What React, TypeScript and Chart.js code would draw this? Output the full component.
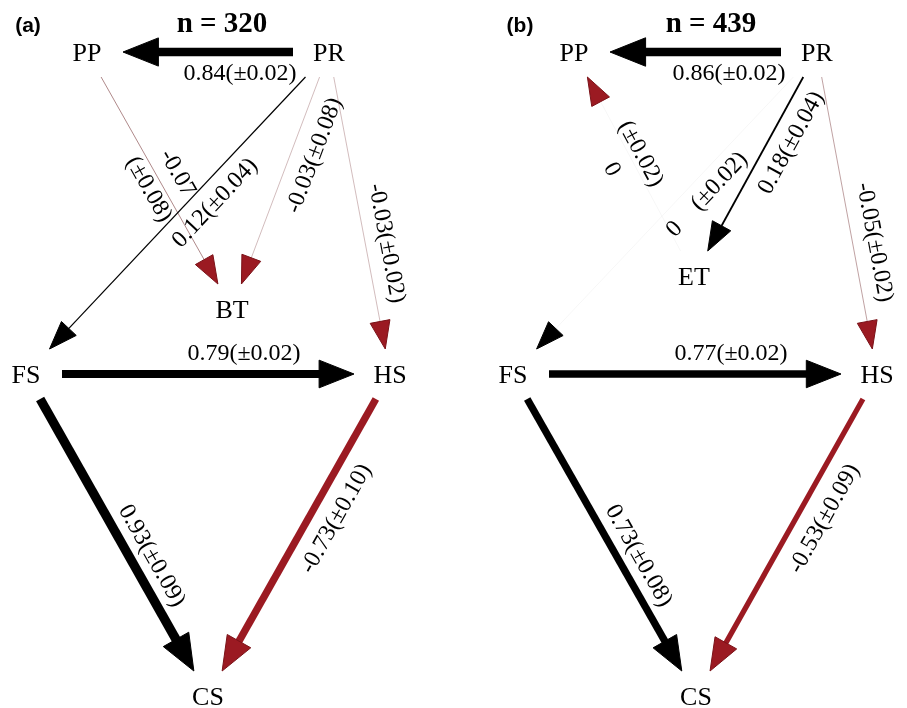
import React, { useEffect, useRef } from "react";
import { Chart, registerables } from "chart.js";

Chart.register(...registerables);

// ---------------- DATA ----------------
const panelTags = ["(a)", "(b)"];
const sampleSizes = [320, 439];

const nodeNamesA = ["PP", "PR", "BT", "FS", "HS", "CS"];
const nodeNamesB = ["PP", "PR", "ET", "FS", "HS", "CS"];

// paths (from -> to), standardized coefficients and standard errors
const fromA = ["PR", "PP", "PR", "PR", "PR", "FS", "FS", "HS"];
const toA = ["PP", "BT", "BT", "FS", "HS", "HS", "CS", "CS"];
const coefA = [0.84, -0.07, -0.03, 0.12, -0.03, 0.79, 0.93, -0.73];
const seA = [0.02, 0.08, 0.08, 0.04, 0.02, 0.02, 0.09, 0.1];

const fromB = ["PR", "ET", "PR", "PR", "PR", "FS", "FS", "HS"];
const toB = ["PP", "PP", "FS", "ET", "HS", "HS", "CS", "CS"];
// -0 marks a (rounded) negative zero path
const coefB = [0.86, -0, 0, 0.18, -0.05, 0.77, 0.73, -0.53];
const seB = [0.02, 0.02, 0.02, 0.04, 0.02, 0.02, 0.08, 0.09];

// ---------------- LAYOUT (diagram coordinates) ----------------
const nodeXA = [87, 329, 232, 26, 390, 208];
const nodeYA = [52, 52, 309, 374, 374, 696];
const nodeXB = [574, 817, 694, 513, 877, 696];
const nodeYB = [52, 52, 276, 374, 374, 696];

const labelXA = [240, 164.5, 313, 214, 388, 244, 153, 335];
const labelYA = [72, 180.5, 155, 202, 243, 352, 555, 518];
const labelModeA = ["line", "stack", "line", "line", "line", "line", "line", "line"];
const labelXB = [729, 627.5, 706, 790, 876, 731, 640, 823];
const labelYB = [72, 161, 193.5, 142, 242, 352, 555, 518];
const labelModeB = ["line", "stackRev", "gap", "line", "line", "line", "line", "line"];

const tagX = [28, 520];
const tagY = [26, 26];
const titleX = [222, 711];
const titleY = [22, 22];

const W = 907;
const H = 708;
const BOX_HW = 36;
const BOX_HH = 25;
const RED = "#9b1a22";
const SERIF = "'Liberation Serif', 'Times New Roman', serif";

type Panel = {
  names: string[];
  nx: number[];
  ny: number[];
  from: string[];
  to: string[];
  coef: number[];
  se: number[];
  lx: number[];
  ly: number[];
  mode: string[];
};

const panels: Panel[] = [
  { names: nodeNamesA, nx: nodeXA, ny: nodeYA, from: fromA, to: toA, coef: coefA, se: seA, lx: labelXA, ly: labelYA, mode: labelModeA },
  { names: nodeNamesB, nx: nodeXB, ny: nodeYB, from: fromB, to: toB, coef: coefB, se: seB, lx: labelXB, ly: labelYB, mode: labelModeB },
];

const isNeg = (c: number) => c < 0 || Object.is(c, -0);
const fmt = (c: number) => (c === 0 ? "0" : c.toFixed(2));

function drawText(ctx: CanvasRenderingContext2D, text: string, x: number, y: number, angle: number, font: string, size: number, dy = 0) {
  ctx.save();
  ctx.translate(x, y);
  ctx.rotate(angle);
  ctx.font = font;
  ctx.fillStyle = "#000";
  ctx.textAlign = "center";
  ctx.textBaseline = "alphabetic";
  ctx.fillText(text, 0, dy + size * 0.33);
  ctx.restore();
}

function shaftColor(c: number) {
  const a = Math.abs(c);
  if (c === 0) return "rgba(0,0,0,0.035)";
  if (isNeg(c)) {
    if (a >= 0.2) return RED;
    return `rgba(130,70,72,${Math.min(1, a * 7 + 0.15)})`;
  }
  return `rgba(0,0,0,${Math.min(1, a * 8 + 0.1)})`;
}

const diagramPlugin = {
  id: "pathDiagram",
  afterDatasetsDraw(chart: any) {
    const ctx: CanvasRenderingContext2D = chart.ctx;
    const xs = chart.scales.x;
    const ys = chart.scales.y;
    const px = (v: number) => xs.getPixelForValue(v);
    const py = (v: number) => ys.getPixelForValue(v);

    panels.forEach((p, pi) => {
      // titles
      drawText(ctx, panelTags[pi], px(tagX[pi]), py(tagY[pi]), 0, "bold 21px 'Liberation Sans', Arial, sans-serif", 21, -1);
      drawText(ctx, "n = " + sampleSizes[pi], px(titleX[pi]), py(titleY[pi]), 0, "bold 29px " + SERIF, 29);

      p.from.forEach((f, i) => {
        const a = p.names.indexOf(f);
        const b = p.names.indexOf(p.to[i]);
        const x1 = px(p.nx[a]), y1 = py(p.ny[a]);
        const x2 = px(p.nx[b]), y2 = py(p.ny[b]);
        const dx = x2 - x1, dy = y2 - y1;
        const len = Math.hypot(dx, dy);
        const ux = dx / len, uy = dy / len;
        const t = Math.min(ux !== 0 ? BOX_HW / Math.abs(ux) : Infinity, uy !== 0 ? BOX_HH / Math.abs(uy) : Infinity);
        const sx = x1 + ux * t, sy = y1 + uy * t;
        const ex = x2 - ux * t, ey = y2 - uy * t;
        const c = p.coef[i];
        const neg = isNeg(c);
        const w = Math.max(1, Math.abs(c) * 10);
        const hl = 27 + w * 1.0;
        const hw = 9.5 + w * 0.55;

        // shaft
        ctx.save();
        ctx.strokeStyle = shaftColor(c);
        ctx.lineWidth = w;
        ctx.lineCap = "butt";
        ctx.beginPath();
        ctx.moveTo(sx, sy);
        ctx.lineTo(ex - ux * (hl - 2), ey - uy * (hl - 2));
        ctx.stroke();
        ctx.restore();

        // head
        const bx = ex - ux * hl, by = ey - uy * hl;
        ctx.save();
        ctx.fillStyle = neg ? RED : "#000";
        ctx.strokeStyle = neg ? "#7a1218" : "#000";
        ctx.lineWidth = 1;
        ctx.lineJoin = "miter";
        ctx.beginPath();
        ctx.moveTo(ex, ey);
        ctx.lineTo(bx - uy * hw, by + ux * hw);
        ctx.lineTo(bx + uy * hw, by - ux * hw);
        ctx.closePath();
        ctx.fill();
        ctx.stroke();
        ctx.restore();

        // label
        let ang = Math.atan2(dy, dx);
        if (ang > Math.PI / 2 + 1e-6) ang -= Math.PI;
        if (ang < -Math.PI / 2 - 1e-6) ang += Math.PI;
        const lx = px(p.lx[i]), ly = py(p.ly[i]);
        const cs = fmt(c);
        const ss = "(\u00b1" + p.se[i].toFixed(2) + ")";
        const font = "24px " + SERIF;
        const gap = 33;
        if (p.mode[i] === "stack") {
          drawText(ctx, cs, lx, ly, ang, font, 24, -gap / 2);
          drawText(ctx, ss, lx, ly, ang, font, 24, gap / 2);
        } else if (p.mode[i] === "stackRev") {
          drawText(ctx, ss, lx, ly, ang, font, 24, -gap / 2);
          drawText(ctx, cs, lx, ly, ang, font, 24, gap / 2);
        } else if (p.mode[i] === "gap") {
          drawText(ctx, cs + "\u2002\u2002" + ss, lx, ly, ang, font, 24);
        } else {
          drawText(ctx, cs + ss, lx, ly, ang, font, 24);
        }
      });

      // node names
      p.names.forEach((n, k) => {
        drawText(ctx, n, px(p.nx[k]), py(p.ny[k]), 0, "26px " + SERIF, 26);
      });
    });
  },
};

export default function App() {
  const ref = useRef<HTMLCanvasElement | null>(null);
  useEffect(() => {
    document.body.style.margin = "0";
    const canvas = ref.current;
    if (!canvas) return;
    const nodePoints = panels.flatMap((p) => p.nx.map((x, k) => ({ x, y: p.ny[k] })));
    const chart = new Chart(canvas, {
      type: "scatter",
      data: {
        datasets: [
          {
            label: "nodes",
            data: nodePoints,
            pointRadius: 0,
            pointHoverRadius: 0,
            showLine: false,
          },
        ],
      },
      options: {
        responsive: false,
        animation: false,
        events: [],
        layout: { padding: 0 },
        plugins: { legend: { display: false }, tooltip: { enabled: false } },
        scales: {
          x: { type: "linear", min: 0, max: W, display: false },
          y: { type: "linear", min: 0, max: H, reverse: true, display: false },
        },
      },
      plugins: [diagramPlugin],
    });
    return () => chart.destroy();
  }, []);
  return (
    <div style={{ width: W, height: H, background: "#fff" }}>
      <canvas ref={ref} width={W} height={H} style={{ display: "block" }} />
    </div>
  );
}
